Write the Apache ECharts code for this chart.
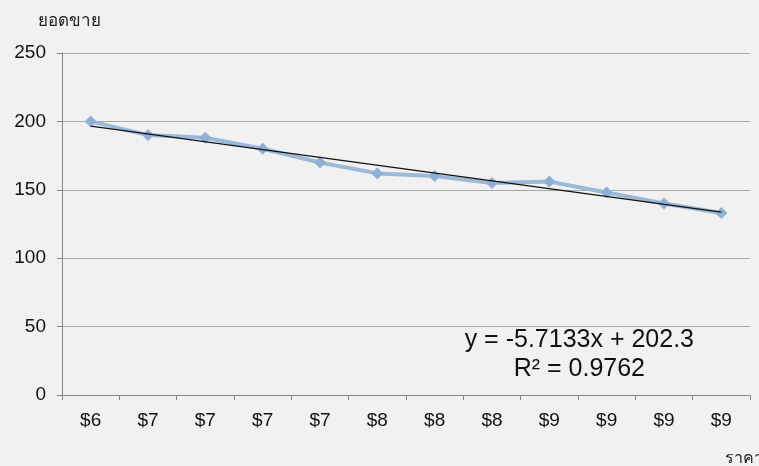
<!DOCTYPE html>
<html>
<head>
<meta charset="utf-8">
<script src="https://cdn.jsdelivr.net/npm/echarts@6/dist/echarts.min.js"></script>
<style>
  html, body { margin: 0; padding: 0; background: #f1f1f1; }
  #chart { width: 759px; height: 466px; }
</style>
</head>
<body>
<div id="chart"></div>
<script>
// Price categories along the x axis
const priceLabels = ['$6', '$7', '$7', '$7', '$7', '$8', '$8', '$8', '$9', '$9', '$9', '$9'];
// Sales volume for each price point
const salesValues = [200, 190, 188, 180, 170, 162, 160, 155, 156, 148, 140, 133];
// Y axis tick settings
const yTicks = { min: 0, max: 250, interval: 50 };
// Axis titles
const yAxisTitle = 'ยอดขาย';
const xAxisTitle = 'ราคา';
// Linear trend fitted over category index 1..n
const trendSlope = -5.7133;
const trendIntercept = 202.3;
const trendR2 = 0.9762;

const n = salesValues.length;
const trendValues = salesValues.map((_, i) =>
  (i === 0 || i === n - 1) ? +(trendSlope * (i + 1) + trendIntercept).toFixed(3) : null
);

const chart = echarts.init(document.getElementById('chart'), null, { renderer: 'canvas' });
const font = 'Liberation Sans, Arial, sans-serif';
const thaiFont = 'Noto Sans, sans-serif';

chart.setOption({
  backgroundColor: '#f1f1f1',
  animation: false,
  grid: { left: 62, right: 9, top: 53, bottom: 71 },
  graphic: [
    { type: 'text', left: 38, top: 13, style: { text: yAxisTitle, fill: '#222', font: '17px ' + thaiFont } },
    { type: 'text', left: 725, top: 450, style: { text: xAxisTitle, fill: '#222', font: '16px ' + thaiFont } }
  ],
  xAxis: {
    type: 'category',
    data: priceLabels,
    boundaryGap: true,
    axisLine: { lineStyle: { color: '#888', width: 1 } },
    axisTick: { show: true, alignWithLabel: false, length: 5, lineStyle: { color: '#888' } },
    axisLabel: { color: '#111', fontSize: 19, fontFamily: font, margin: 16 },
    splitLine: { show: false }
  },
  yAxis: {
    type: 'value',
    min: yTicks.min,
    max: yTicks.max,
    interval: yTicks.interval,
    axisLine: { show: true, lineStyle: { color: '#888', width: 1 } },
    axisTick: { show: true, length: 5, lineStyle: { color: '#888' } },
    axisLabel: { color: '#111', fontSize: 19, fontFamily: font, margin: 16 },
    splitLine: { show: true, lineStyle: { color: '#a8a8a8', width: 1 } }
  },
  series: [
    {
      name: yAxisTitle,
      type: 'line',
      data: salesValues,
      symbol: 'diamond',
      symbolSize: 12,
      lineStyle: { color: '#9bb9d9', width: 4 },
      itemStyle: { color: '#8fb0d4' },
      z: 2
    },
    {
      name: 'trend',
      type: 'line',
      data: trendValues,
      connectNulls: true,
      symbol: 'none',
      lineStyle: { color: '#111', width: 1.3 },
      z: 3,
      markPoint: {
        symbol: 'rect',
        symbolSize: 0,
        data: [{
          coord: [8, 55],
          label: {
            show: true,
            formatter: 'y = ' + trendSlope + 'x + ' + trendIntercept + '\nR² = ' + trendR2,
            color: '#111',
            fontSize: 25,
            fontFamily: font,
            lineHeight: 29,
            align: 'center',
            offset: [30, 35]
          }
        }]
      }
    }
  ]
});
</script>
</body>
</html>
